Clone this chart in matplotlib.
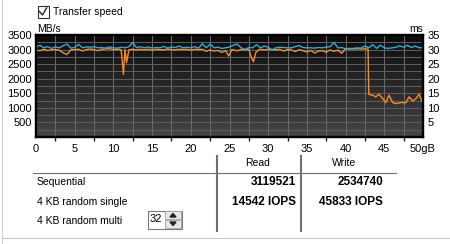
import numpy as np
import matplotlib
matplotlib.use("Agg")
import matplotlib.pyplot as plt
from matplotlib.colors import LinearSegmentedColormap
from matplotlib.patches import Rectangle, Polygon

plt.rcParams["font.family"] = ["Liberation Sans", "DejaVu Sans"]

# read transfer speed (blue), MB/s, every 0.5 GB
read_gb = np.arange(0, 50.01, 0.5)
read_mbs = [3080, 3150, 3060, 3100, 3040, 3090, 3060, 3130, 3190, 3050,
            3070, 3180, 3060, 3090, 3080, 3100, 3060, 3070, 3050, 3090,
            3060, 3050, 3080, 3060, 3100, 3240, 3060, 3100, 3060, 3090,
            3050, 3070, 3060, 3110, 3050, 3090, 3070, 3120, 3060, 3080,
            3060, 3100, 3050, 3200, 3060, 3190, 3060, 3080, 3040, 3060,
            3090, 3150, 3190, 3060, 3010, 3070, 3060, 3170, 3060, 3120,
            3080, 2990, 3060, 3080, 3070, 3060, 3060, 3100, 3140, 3070,
            3060, 3060, 3050, 3070, 3060, 3080, 3100, 3250, 3060, 3070,
            3030, 3040, 3040, 3060, 3050, 3120, 3060, 3170, 3040, 3150,
            3060, 3040, 3060, 3080, 3130, 3080, 3150, 3070, 3120, 3060,
            3070]

# write transfer speed (orange), MB/s
write_gb = [0, 0.5, 1, 1.5, 2, 2.5, 3, 3.5, 4, 4.5, 5, 5.5, 6, 6.5, 7, 7.5,
            8, 8.5, 9, 9.5, 10, 10.5, 11, 11.3, 11.5, 11.7, 12, 12.5, 13,
            13.5, 14, 14.5, 15, 15.5, 16, 16.5, 17, 17.5, 18, 18.5, 19, 19.5,
            20, 20.5, 21, 21.5, 22, 22.5, 23, 23.5, 24, 24.5, 24.9, 25.3,
            25.5, 26, 26.5, 27, 27.5, 27.8, 28.1, 28.4, 28.8, 29, 29.5, 30,
            30.5, 31, 31.5, 32, 32.5, 33, 33.5, 34, 34.5, 35, 35.5, 36, 36.5,
            37, 37.5, 38, 38.5, 39, 39.5, 40, 40.5, 41, 41.5, 42, 42.5, 42.9,
            43.0, 43.5, 43.9, 44.3, 44.8, 45.2, 45.6, 46.1, 46.5, 47.1, 47.8,
            48.2, 48.7, 49.1, 49.5, 49.9, 50]
write_mbs = [2990, 2960, 3010, 2970, 2990, 3000, 2980, 2890, 2830, 2990,
             3000, 3010, 2950, 3000, 3020, 3000, 2960, 3010, 3020, 3030,
             3000, 3010, 3000, 2150, 3000, 2550, 2990, 3010, 2980, 3010,
             2990, 3010, 2970, 3010, 3000, 2990, 3020, 3000, 2990, 3010,
             3000, 3010, 2980, 3010, 3000, 3010, 2940, 2990, 2950, 2970,
             2900, 2960, 2780, 3000, 2990, 2960, 3000, 2990, 3010, 2750,
             2580, 2900, 3000, 3010, 2990, 3010, 3000, 2990, 3010, 2950,
             3000, 2990, 2930, 3000, 2960, 2920, 2970, 2880, 2950, 2960,
             2910, 2990, 2940, 2980, 2870, 3030, 3020, 3020, 3030, 3020,
             3030, 3010, 1460, 1435, 1376, 1470, 1320, 1180, 1435, 1180,
             1145, 1180, 1180, 1376, 1236, 1320, 1470, 1200, 1210]

gb_ticks = [0, 5, 10, 15, 20, 25, 30, 35, 40, 45, 50]
gb_labels = ["0", "5", "10", "15", "20", "25", "30", "35", "40", "45", "50gB"]
mbs_ticks = [500, 1000, 1500, 2000, 2500, 3000, 3500]
ms_ticks = [5, 10, 15, 20, 25, 30, 35]

rows = ["Sequential", "4 KB random single", "4 KB random multi"]
read_vals = ["3119521", "14542 IOPS"]
write_vals = ["2534740", "45833 IOPS"]
queue_depth = "32"

W, H = 450, 244
fig = plt.figure(figsize=(4.5, 2.44), dpi=100)
fig.patch.set_facecolor("white")

# pixel-space overlay for the dialog bits
ui = fig.add_axes([0, 0, 1, 1])
ui.set_xlim(0, W)
ui.set_ylim(H, 0)
ui.axis("off")


def box(x0, y0, x1, y1):
    return [x0 / W, 1 - y1 / H, (x1 - x0) / W, (y1 - y0) / H]


ax = fig.add_axes(box(36, 35, 423, 137))
bg = LinearSegmentedColormap.from_list("bg", ["#0c0c0c", "#454545"])
ax.imshow(np.linspace(0, 1, 256).reshape(-1, 1), cmap=bg, aspect="auto",
          extent=[0, 50, 0, 3500], origin="upper", zorder=0)
for v in np.arange(2.5, 50, 2.5):
    ax.axvline(v, color="#6a6a6a", lw=0.75, zorder=1)
for h in np.arange(250, 3500, 250):
    ax.axhline(h, color="#5e5e5e", lw=0.75, zorder=1)

ax.plot(write_gb, write_mbs, color="#ff8a17", lw=1.0, zorder=3)
ax.plot(read_gb, read_mbs, color="#1eb0ea", lw=1.0, zorder=4)

ax.set_xlim(0, 50)
ax.set_ylim(0, 3500)
ax.set_xticks(gb_ticks)
ax.set_xticklabels(gb_labels)
ax.set_xticks(np.arange(2.5, 50, 5), minor=True)
ax.set_yticks(mbs_ticks)
ax.tick_params(axis="x", which="major", length=0, pad=5, labelsize=8)
ax.tick_params(axis="x", which="minor", length=3, width=1, color="#222222")
ax.tick_params(axis="y", length=0, pad=3, labelsize=8)
for s in ax.spines.values():
    s.set_color("black")
    s.set_linewidth(1.6)

ax2 = ax.twinx()
ax2.set_ylim(0, 35)
ax2.set_yticks(ms_ticks)
ax2.tick_params(axis="y", length=0, pad=3, labelsize=8)
for s in ax2.spines.values():
    s.set_color("black")
    s.set_linewidth(1.6)

# window borders
ui.plot([1.5, 1.5], [0, H], color="#d4d4d4", lw=0.8)
ui.plot([2, W], [237.5, 237.5], color="#c8c8c8", lw=0.8)

# checkbox
ui.add_patch(Rectangle((37.5, 5.5), 11, 12, fc="white", ec="#333333", lw=0.8))
ui.plot([39.5, 42.5, 46.5], [11.5, 15, 8], color="#333333", lw=1.1)
ui.text(53, 12, "Transfer speed", va="center", ha="left", fontsize=7.5)

ui.text(37, 29, "MB/s", va="center", ha="left", fontsize=7.5)
ui.text(423, 29, "ms", va="center", ha="right", fontsize=7.5)

# results table
ui.plot([33, 396], [172.5, 172.5], color="#707070", lw=0.8)
ui.plot([217, 217], [156, 231], color="#707070", lw=1.5)
ui.plot([301, 301], [156, 231], color="#707070", lw=1.5)
ui.text(258, 163, "Read", ha="center", va="center", fontsize=7.5)
ui.text(344, 163, "Write", ha="center", va="center", fontsize=7.5)
row_y = [182, 202, 221]
for name, y in zip(rows, row_y):
    ui.text(37, y, name, ha="left", va="center", fontsize=7.5)
for i in range(2):
    ui.text(296, row_y[i], read_vals[i], ha="right", va="center",
            fontsize=8.5, fontweight="bold")
    ui.text(383, row_y[i], write_vals[i], ha="right", va="center",
            fontsize=8.5, fontweight="bold")

# queue depth spin box
ui.add_patch(Rectangle((147.5, 210.5), 34, 18, fc="white", ec="#7a7a7a", lw=0.8))
ui.add_patch(Rectangle((165, 211), 16, 8, fc="#e6e6e6", ec="#a0a0a0", lw=0.6))
ui.add_patch(Rectangle((165, 220), 16, 8, fc="#e6e6e6", ec="#a0a0a0", lw=0.6))
ui.add_patch(Polygon([[170, 217], [176, 217], [173, 213.5]], color="#222222"))
ui.add_patch(Polygon([[170, 222], [176, 222], [173, 225.5]], color="#222222"))
ui.text(150, 219.5, queue_depth, ha="left", va="center", fontsize=8)

fig.savefig("out.png", dpi=100)
